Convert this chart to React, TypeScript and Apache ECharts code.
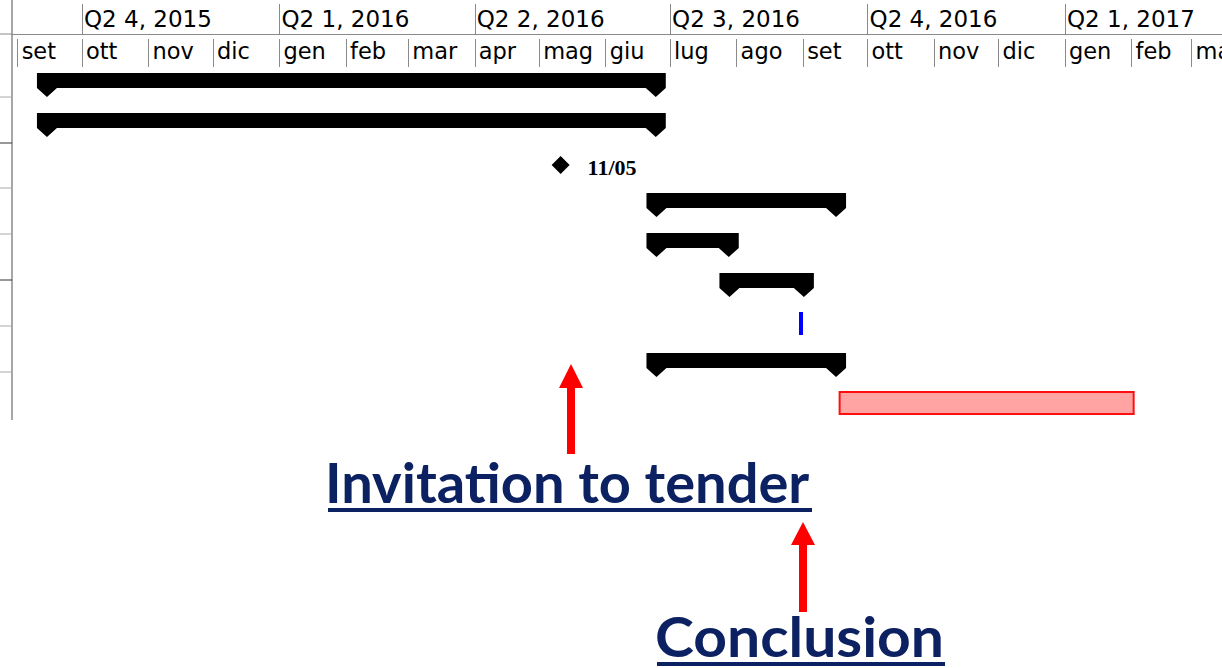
import React, { useEffect, useRef } from 'react';
import * as echarts from 'echarts';

// ---- header (timescale) ----
const monthStarts = [
  '2015-09-01', '2015-10-01', '2015-11-01', '2015-12-01', '2016-01-01', '2016-02-01',
  '2016-03-01', '2016-04-01', '2016-05-01', '2016-06-01', '2016-07-01', '2016-08-01',
  '2016-09-01', '2016-10-01', '2016-11-01', '2016-12-01', '2017-01-01', '2017-02-01', '2017-03-01',
];
const monthLabels = [
  'set', 'ott', 'nov', 'dic', 'gen', 'feb', 'mar', 'apr', 'mag', 'giu', 'lug', 'ago',
  'set', 'ott', 'nov', 'dic', 'gen', 'feb', 'mar',
];
const quarterStarts = ['2015-10-01', '2016-01-01', '2016-04-01', '2016-07-01', '2016-10-01', '2017-01-01'];
const quarterLabels = ['Q2 4, 2015', 'Q2 1, 2016', 'Q2 2, 2016', 'Q2 3, 2016', 'Q2 4, 2016', 'Q2 1, 2017'];

// ---- tasks ----
const taskRows = [0, 1, 2, 3, 4, 5, 6, 7, 8];
const taskStarts = [
  '2015-09-10', '2015-09-10', '2016-05-11', '2016-06-20', '2016-06-20',
  '2016-07-24', '2016-08-31', '2016-06-20', '2016-09-18',
];
const taskEnds = [
  '2016-06-29', '2016-06-29', '2016-05-11', '2016-09-21', '2016-08-02',
  '2016-09-06', '2016-08-31', '2016-09-21', '2017-02-02',
];
const taskKinds = ['summary', 'summary', 'milestone', 'summary', 'summary', 'summary', 'marker', 'summary', 'bar'];
const taskLabels = ['', '', '11/05', '', '', '', '', '', ''];

// ---- annotations ----
const annotationTexts = ['Invitation to tender', 'Conclusion'];

const ts = (s: string) => {
  const [y, m, d] = s.split('-').map(Number);
  return new Date(y, m - 1, d).getTime();
};

const monthTs = monthStarts.map(ts);
const quarterTs = quarterStarts.map(ts);

const lookup = (values: number[], labels: string[]) => (v: number) => {
  let best = -1;
  let bestD = Infinity;
  values.forEach((t, i) => {
    const d = Math.abs(t - v);
    if (d < bestD) {
      bestD = d;
      best = i;
    }
  });
  return best >= 0 && bestD < 3 * 86400000 ? labels[best] : '';
};

const axisMin = new Date(2015, 7, 29, 9).getTime();
const axisMax = new Date(2017, 2, 15, 4).getTime();

const HEADER_FONT = '"DejaVu Sans", Tahoma, Verdana, sans-serif';
const NAVY = '#0c2161';
const ANNOT_FONT = 'bold 56px Lato, "Open Sans", sans-serif';

export default function App() {
  const ref = useRef<HTMLDivElement>(null);

  useEffect(() => {
    if (!ref.current) return;
    const chart = echarts.init(ref.current, undefined, { renderer: 'svg' });

    const data = taskRows.map((r, i) => [r, ts(taskStarts[i]), ts(taskEnds[i])]);

    const renderItem = (params: any, api: any) => {
      const i = params.dataIndex;
      const kind = taskKinds[i];
      const row = api.value(0);
      const p0 = api.coord([api.value(1), row]);
      const p1 = api.coord([api.value(2), row]);
      const top = p0[1];
      const x0 = p0[0];
      const x1 = p1[0];
      if (kind === 'summary') {
        const y0 = top + 6;
        const yb = top + 21;
        const yt = top + 30;
        return {
          type: 'polygon',
          shape: {
            points: [
              [x0, y0], [x1, y0], [x1, yb], [x1 - 10, yt], [x1 - 20, yb],
              [x0 + 20, yb], [x0 + 10, yt], [x0, yb],
            ],
          },
          style: { fill: '#000' },
        };
      }
      if (kind === 'milestone') {
        const cy = top + 18;
        const h = 9;
        return {
          type: 'group',
          children: [
            {
              type: 'polygon',
              shape: { points: [[x0, cy - h], [x0 + h, cy], [x0, cy + h], [x0 - h, cy]] },
              style: { fill: '#000' },
            },
            {
              type: 'text',
              style: {
                text: taskLabels[i],
                x: x0 + 27,
                y: cy + 2,
                fill: '#000',
                font: 'bold 22px "Liberation Serif", "Times New Roman", serif',
                align: 'left',
                verticalAlign: 'middle',
              },
            },
          ],
        };
      }
      if (kind === 'marker') {
        return {
          type: 'rect',
          shape: { x: x0 - 2, y: top + 5, width: 4, height: 23 },
          style: { fill: '#0000ff' },
        };
      }
      return {
        type: 'rect',
        shape: { x: x0, y: top + 5, width: x1 - x0, height: 22 },
        style: { fill: '#ffa3a3', stroke: '#ff1010', lineWidth: 2 },
      };
    };

    const grey = '#8a8a8a';

    const option: any = {
      animation: false,
      backgroundColor: '#ffffff',
      grid: { left: 12, right: 0, top: 67, height: 360, containLabel: false, outerBoundsMode: 'none' },
      xAxis: [
        {
          type: 'value',
          position: 'top',
          offset: 2,
          min: axisMin,
          max: axisMax,
          axisLine: { show: false },
          splitLine: { show: false },
          axisTick: {
            show: true,
            customValues: monthTs,
            length: 28,
            lineStyle: { color: grey, width: 1 },
          },
          axisLabel: {
            show: true,
            customValues: monthTs,
            formatter: lookup(monthTs, monthLabels),
            align: 'left',
            verticalAlign: 'middle',
            padding: [0, 0, 0, 4],
            margin: 14,
            color: '#000',
            fontSize: 22.5,
            fontFamily: HEADER_FONT,
            hideOverlap: false,
            showMinLabel: true,
            showMaxLabel: true,
          },
        },
        {
          type: 'value',
          position: 'top',
          offset: 33,
          min: axisMin,
          max: axisMax,
          axisLine: { show: true, lineStyle: { color: grey, width: 1 } },
          splitLine: { show: false },
          axisTick: {
            show: true,
            customValues: quarterTs,
            length: 30,
            lineStyle: { color: grey, width: 1 },
          },
          axisLabel: {
            show: true,
            customValues: quarterTs,
            formatter: lookup(quarterTs, quarterLabels),
            align: 'left',
            verticalAlign: 'middle',
            padding: [0, 0, 0, 2],
            margin: 15,
            color: '#000',
            fontSize: 23,
            fontFamily: HEADER_FONT,
            hideOverlap: false,
            showMinLabel: true,
            showMaxLabel: true,
          },
        },
      ],
      yAxis: {
        type: 'value',
        min: 0,
        max: 9,
        inverse: true,
        show: false,
        splitLine: { show: false },
      },
      series: [
        {
          type: 'custom',
          xAxisIndex: 0,
          yAxisIndex: 0,
          clip: false,
          renderItem,
          encode: { x: [1, 2], y: 0 },
          data,
          silent: true,
        },
      ],
      graphic: [
        // left table edge and row separators
        { type: 'line', shape: { x1: 12, y1: 0, x2: 12, y2: 420 }, style: { stroke: grey, lineWidth: 1.5 } },
        { type: 'line', shape: { x1: 0, y1: 34, x2: 12, y2: 34 }, style: { stroke: grey, lineWidth: 1 } },
        ...[97, 143, 188, 234, 280, 326, 372].map((y, k) => ({
          type: 'line',
          shape: { x1: 0, y1: y, x2: 12, y2: y },
          style: { stroke: k === 1 || k === 4 ? '#333' : '#aaa', lineWidth: 1 },
        })),
        // arrows
        {
          type: 'polygon',
          shape: { points: [[571, 364], [583, 388], [575, 388], [575, 454], [567, 454], [567, 388], [559, 388]] },
          style: { fill: '#ff0000' },
        },
        {
          type: 'polygon',
          shape: { points: [[803, 522], [815, 545], [807, 545], [807, 612], [799, 612], [799, 545], [791, 545]] },
          style: { fill: '#ff0000' },
        },
        // annotation texts
        {
          type: 'text',
          x: 325,
          y: 481,
          style: {
            text: annotationTexts[0],
            x: 0,
            y: 0,
            fill: NAVY,
            font: ANNOT_FONT,
            align: 'left',
            verticalAlign: 'middle',
          },
        },
        { type: 'rect', shape: { x: 328, y: 508, width: 484, height: 4 }, style: { fill: NAVY } },
        {
          type: 'text',
          x: 655,
          y: 635,
          scaleX: 1.05,
          style: {
            text: annotationTexts[1],
            x: 0,
            y: 0,
            fill: NAVY,
            font: ANNOT_FONT,
            align: 'left',
            verticalAlign: 'middle',
          },
        },
        { type: 'rect', shape: { x: 657, y: 662, width: 288, height: 4 }, style: { fill: NAVY } },
      ],
    };

    chart.setOption(option);
    return () => chart.dispose();
  }, []);

  return (
    <div
      ref={ref}
      style={{ position: 'fixed', left: 0, top: 0, width: 1222, height: 668, background: '#fff' }}
    />
  );
}
